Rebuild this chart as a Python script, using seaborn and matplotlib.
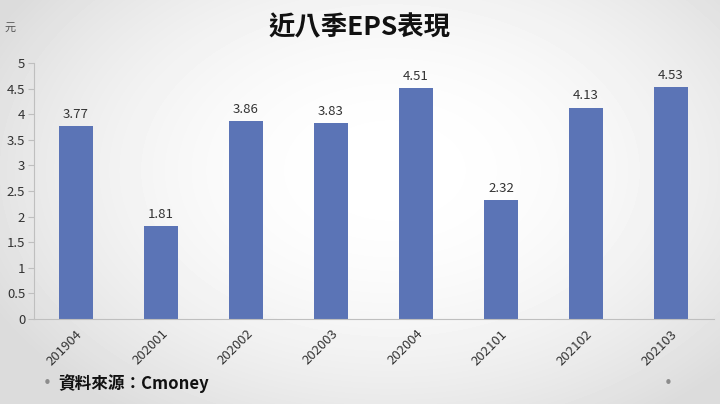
import numpy as np
import pandas as pd
import matplotlib
matplotlib.use("Agg")
import matplotlib.pyplot as plt
import seaborn as sns

# data
quarters = ["201904", "202001", "202002", "202003", "202004", "202101", "202102", "202103"]
eps = [3.77, 1.81, 3.86, 3.83, 4.51, 2.32, 4.13, 4.53]
y_ticks = [0, 0.5, 1, 1.5, 2, 2.5, 3, 3.5, 4, 4.5, 5]

title = "近八季EPS表現"
unit = "元"
source = "資料來源：Cmoney"
bar_color = "#5B74B6"

sns.set_theme(style="white")
plt.rcParams['font.family'] = ['Noto Sans CJK TC', 'DejaVu Sans']

df = pd.DataFrame({"quarter": quarters, "eps": eps})

fig = plt.figure(figsize=(7.2, 4.04), dpi=100)

# slide-like radial gradient background
bg = fig.add_axes([0, 0, 1, 1], zorder=0)
yy, xx = np.mgrid[0:404, 0:720]
r = np.sqrt(((xx - 390) / 450.0) ** 2 + ((yy - 170) / 300.0) ** 2)
shade = 1.0 - 0.14 * np.clip(r, 0, 1) ** 2
bg.imshow(shade, cmap="gray", vmin=0, vmax=1, aspect="auto", extent=[0, 720, 404, 0])
bg.set_axis_off()

ax = fig.add_axes([33.5 / 720, 1 - 319 / 404, 680 / 720, 256 / 404], zorder=1)
ax.patch.set_alpha(0)
sns.barplot(data=df, x="quarter", y="eps", color=bar_color, width=0.4,
            saturation=1, linewidth=0, ax=ax)

ax.set_xlim(-0.5, len(quarters) - 0.5)
ax.set_ylim(0, 5)
ax.set_yticks(y_ticks)
ax.set_yticklabels([f"{t:g}" for t in y_ticks], fontsize=9.5, color="#333333")
ax.set_xlabel("")
ax.set_ylabel("")

# category labels centred, tick marks on the boundaries
ax.set_xticks(range(len(quarters)))
ax.set_xticklabels(quarters, rotation=45, ha="right", rotation_mode="anchor",
                   fontsize=9.5, color="#333333")
ax.set_xticks(np.arange(-0.5, len(quarters) + 0.5, 1), minor=True)
ax.tick_params(axis="x", which="major", length=0, pad=6)
ax.tick_params(axis="x", which="minor", length=4, color="#bfbfbf", width=0.8)
ax.tick_params(axis="y", length=4, color="#bfbfbf", width=0.8, pad=2, left=True)

for side in ["top", "right"]:
    ax.spines[side].set_visible(False)
for side in ["left", "bottom"]:
    ax.spines[side].set_color("#bfbfbf")
    ax.spines[side].set_linewidth(0.8)

for i, v in enumerate(eps):
    ax.text(i, v + 0.1, f"{v:.2f}", ha="center", va="bottom", fontsize=9.5, color="#333333")

fig.text(0.5, 1 - 28 / 404, title, ha="center", va="center", fontsize=19,
         fontweight="bold", color="#111111")
fig.text(10 / 720, 1 - 28 / 404, unit, ha="center", va="center", fontsize=8, color="#555555")
fig.text(47 / 720, 1 - 384 / 404, "•", ha="center", va="center", fontsize=15, color="#8c8c8c")
fig.text(58 / 720, 1 - 384 / 404, source, ha="left", va="center", fontsize=12,
         fontweight="bold", color="#111111")
fig.text(668 / 720, 1 - 384 / 404, "•", ha="center", va="center", fontsize=15, color="#8c8c8c")

fig.savefig("out.png", dpi=100)
